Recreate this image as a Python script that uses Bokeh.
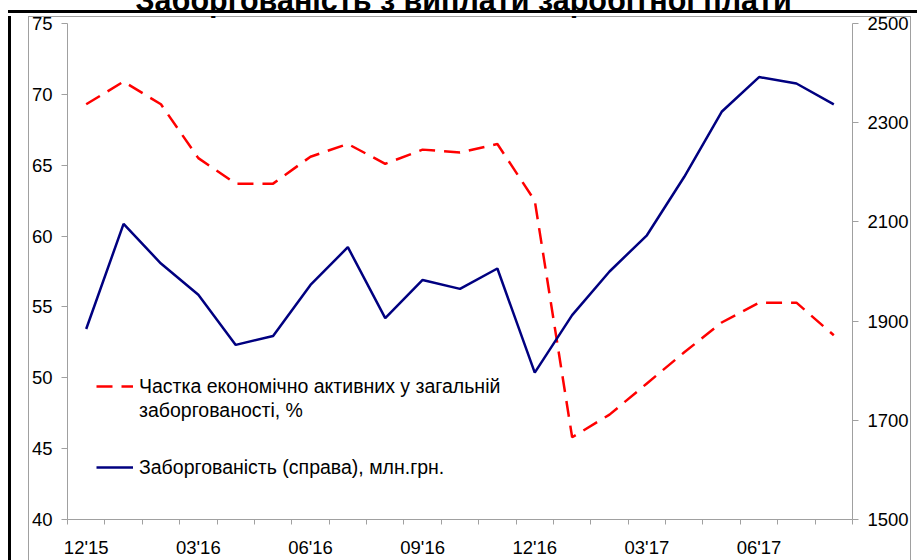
from bokeh.plotting import figure
from bokeh.models import (Range1d, LinearAxis, FixedTicker, Legend, LegendItem,
                          InlineStyleSheet)
from bokeh.embed import file_html
from bokeh.resources import INLINE

months = ["12'15", "01'16", "02'16", "03'16", "04'16", "05'16", "06'16", "07'16",
          "08'16", "09'16", "10'16", "11'16", "12'16", "01'17", "02'17", "03'17",
          "04'17", "05'17", "06'17", "07'17", "08'17"]
share_active = [69.3, 70.9, 69.3, 65.5, 63.7, 63.7, 65.6, 66.5, 65.1, 66.1, 65.9,
                66.5, 62.5, 45.8, 47.4, 49.6, 51.8, 53.9, 55.3, 55.3, 53.0]
debt_total = [1884, 2096, 2016, 1953, 1852, 1870, 1973, 2049, 1906, 1983, 1965,
              2006, 1796, 1912, 2000, 2073, 2191, 2322, 2392, 2379, 2337]
x_tick_labels = ["12'15", "03'16", "06'16", "09'16", "12'16", "03'17", "06'17"]
left_ticks = [40, 45, 50, 55, 60, 65, 70, 75]
right_ticks = [1500, 1700, 1900, 2100, 2300, 2500]

title_text = "Заборгованість з виплати заробітної плати"
label_share_1 = "Частка економічно активних у загальній"
label_share_2 = "заборгованості, %"
label_debt = "Заборгованість (справа), млн.грн."

FONT = "Liberation Sans"
GREY = "#a0a0a0"

xs = list(range(len(months)))
major_x = [months.index(m) for m in x_tick_labels]
minor_x = [i - 0.5 for i in range(len(months) + 1)]

SHIFT = 27  # the page is cropped: the top of the title lies above the window
BT = 10 + SHIFT   # black top edge (canvas px)
GT = 16 + SHIFT   # grey top edge (canvas px)

# chart-area frame (black outer line, grey inner line) drawn as CSS inset shadows
frame_shadow = ", ".join([
    f"inset 0 {BT}px 0 0 white",
    "inset 8px 0 0 0 white",
    "inset 11px 0 0 0 black",
    f"inset 0 {BT + 3}px 0 0 black",
    "inset 28px 0 0 0 white",
    f"inset 0 {GT}px 0 0 white",
    "inset -6px 0 0 0 white",
    f"inset 29px 0 0 0 {GREY}",
    f"inset 0 {GT + 1}px 0 0 {GREY}",
    f"inset -7px 0 0 0 {GREY}",
])
# black top edge repeated above the canvas so the cropped title sits behind it
edge_css = InlineStyleSheet(css=(
    ":host { position: relative; }"
    f":host::after {{ content: ''; position: absolute; left: 8px; top: {BT}px;"
    " width: 909px; height: 6px; z-index: 100; pointer-events: none;"
    " background: linear-gradient(to bottom, black 0px, black 3px,"
    " white 3px, white 6px); }"
))

p = figure(width=917, height=560 + SHIFT, output_backend="svg",
           toolbar_location=None,
           x_range=Range1d(-0.5, len(months) - 0.5), y_range=Range1d(40, 75),
           min_border_left=67, min_border_right=65, min_border_top=23 + SHIFT,
           min_border_bottom=40,
           styles={"margin-top": f"-{SHIFT}px", "box-shadow": frame_shadow,
                   "background-color": "white"},
           stylesheets=[edge_css])
p.extra_y_ranges = {"right": Range1d(1500, 2500)}
p.outline_line_color = None
p.grid.visible = False
p.background_fill_color = "white"
p.border_fill_color = None

p.title.text = title_text
p.title.text_font = FONT
p.title.text_font_size = "30.5px"
p.title.text_font_style = "bold"
p.title.text_color = "black"
p.title.align = "left"
p.title.offset = 68
p.title.standoff = 13

# x axis
xa = p.xaxis[0]
xa.ticker = FixedTicker(ticks=major_x, minor_ticks=minor_x)
xa.major_label_overrides = {months.index(m): m for m in x_tick_labels}
xa.major_tick_out = 0
xa.major_tick_in = 0
xa.minor_tick_out = 5
xa.minor_tick_in = 0
xa.minor_tick_line_color = GREY
xa.major_label_standoff = 12

# left axis
ya = p.yaxis[0]
ya.ticker = FixedTicker(ticks=left_ticks)
ya.major_tick_out = 6
ya.major_tick_in = 0
ya.minor_tick_line_color = None
ya.major_label_standoff = 9

ra = LinearAxis(y_range_name="right", ticker=FixedTicker(ticks=right_ticks))
ra.major_tick_out = 6
ra.major_tick_in = 0
ra.minor_tick_line_color = None
ra.major_label_standoff = 9
p.add_layout(ra, "right")

for ax in [xa, ya, ra]:
    ax.axis_line_color = GREY
    ax.major_tick_line_color = GREY
    ax.major_label_text_font = FONT
    ax.major_label_text_font_size = "18.5px"
    ax.major_label_text_color = "black"

r_share = p.line(xs, share_active, line_color="#ff0000", line_width=2.5,
                 line_dash="16 9")
r_debt = p.line(xs, debt_total, line_color="#000080", line_width=2.5,
                y_range_name="right")
r_blank = p.line([], [], line_alpha=0)

common = dict(orientation="vertical", label_text_font=FONT,
              label_text_font_size="19.5px", label_text_color="black",
              glyph_width=37, glyph_height=24, label_height=24,
              label_standoff=6, spacing=0, padding=0, margin=0,
              border_line_color=None, background_fill_alpha=0)

legend_share = Legend(items=[LegendItem(label=label_share_1, renderers=[r_share]),
                             LegendItem(label=label_share_2, renderers=[r_blank])],
                      location=(29, 97), **common)
legend_debt = Legend(items=[LegendItem(label=label_debt, renderers=[r_debt])],
                     location=(29, 40), **common)
p.add_layout(legend_share, "center")
p.add_layout(legend_debt, "center")

open("out.html", "w").write(file_html(p, INLINE))
